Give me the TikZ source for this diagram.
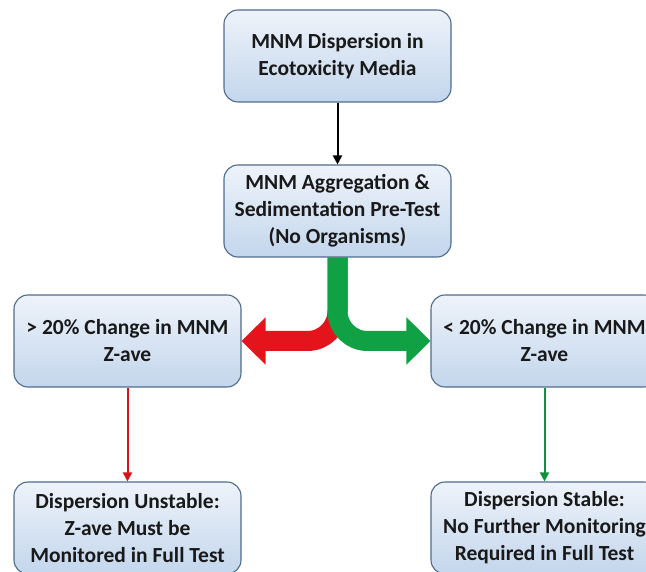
\documentclass[tikz,border=0pt]{standalone}
\usepackage{fontspec}
\setmainfont{Carlito}
\usetikzlibrary{arrows.meta}
\definecolor{boxline}{HTML}{4F6B8C}
\definecolor{boxtop}{HTML}{EEF3FA}
\definecolor{boxbot}{HTML}{C3D6EC}
\definecolor{fatred}{HTML}{E3141B}
\definecolor{fatgreen}{HTML}{10A145}
\begin{document}
\begin{tikzpicture}[
  x=1pt, y=-1pt,
  box/.style={rectangle, rounded corners=14pt, draw=boxline, line width=1.1pt,
    top color=boxtop, bottom color=boxbot, minimum width=227pt, minimum height=92pt,
    align=center, font=\fontsize{21.5}{27}\selectfont\bfseries, text=black!90},
  thin/.style={line width=2pt, -{Triangle[length=9pt,width=9pt]}},
  fat/.style={line width=20pt, rounded corners=30pt, -{Triangle[length=24pt,width=46pt]}}
]
\useasboundingbox (0,0) rectangle (646,572);

% --- boxes ---
\node[box] (media)    at (337.5,56)  {MNM Dispersion in\\Ecotoxicity Media};
\node[box] (pretest)  at (337.5,211) {MNM Aggregation \&\\Sedimentation Pre-Test\\(No Organisms)};
\node[box] (gt)       at (127.5,341) {> 20\% Change in MNM\\Z-ave};
\node[box] (lt)       at (544.5,341) {< 20\% Change in MNM\\Z-ave};
\node[box] (unstable) at (127.5,528) {Dispersion Unstable:\\Z-ave Must be\\Monitored in Full Test};
\node[box] (stable)   at (544.5,528) {Dispersion Stable:\\No Further Monitoring\\Required in Full Test};

% --- connectors ---
\draw[thin, black] (media) -- (pretest);
\draw[fat, fatred] (pretest.south) |- (gt.east);
\draw[fat, fatgreen] (pretest.south) |- (lt.west);
\draw[thin, fatred!95!black] (gt) -- (unstable);
\draw[thin, fatgreen!90!black] (lt) -- (stable);

\end{tikzpicture}
\end{document}
